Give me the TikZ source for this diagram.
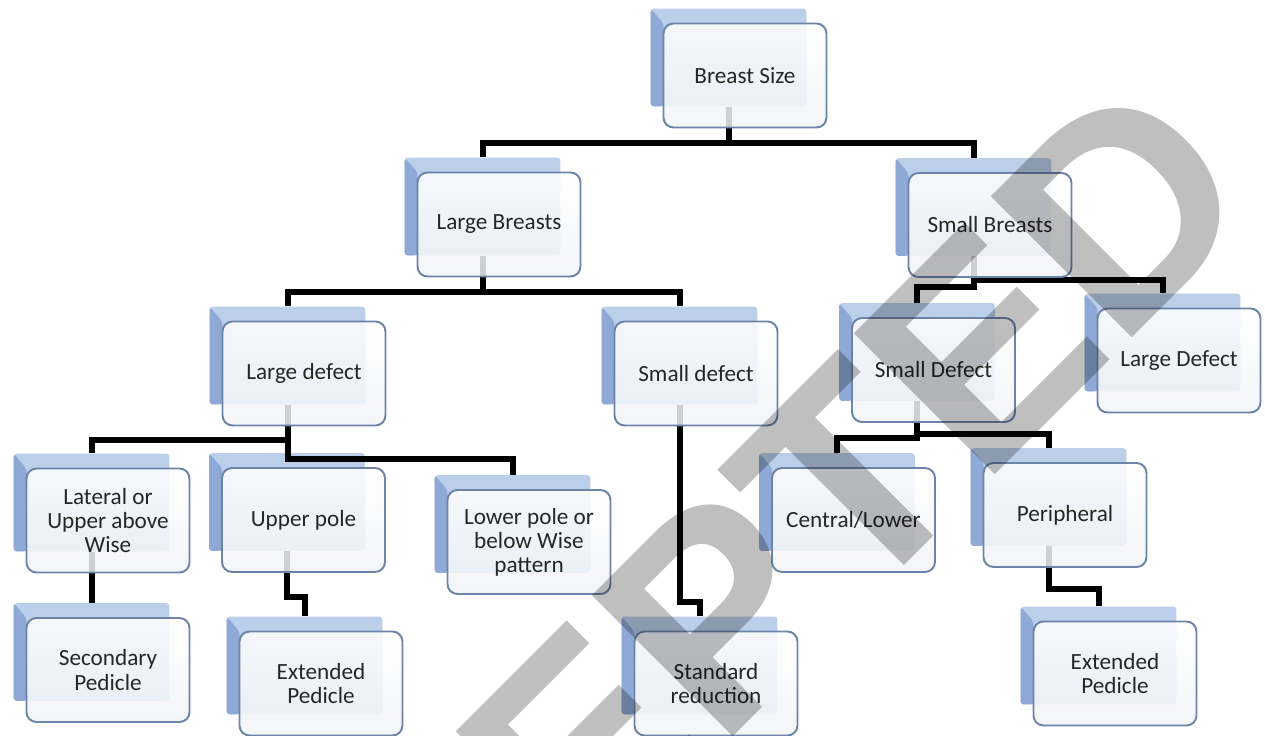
\documentclass[tikz,border=0pt]{standalone}
\usepackage{fontspec}
\setmainfont{Carlito}
\newfontfamily\stampfont{Liberation Sans}
\usetikzlibrary{backgrounds}

\definecolor{cardedge}{HTML}{6B84A8}
\definecolor{cardfoot}{HTML}{F1F3F7}
\definecolor{cardtext}{HTML}{262626}
\definecolor{backtop}{HTML}{BCCFEA}
\definecolor{backside}{HTML}{8EA9D6}

\tikzset{
  card/.style={rectangle, rounded corners=0.2cm, draw=cardedge, line width=1.1pt,
    top color=white, bottom color=cardfoot, fill opacity=0.85, text opacity=1,
    minimum width=3.26cm, minimum height=2.08cm, inner sep=2pt, align=center,
    text=cardtext, font=\fontsize{13.2}{13.7}\selectfont},
  back/.style={rectangle, rounded corners=2pt, fill=backtop, inner sep=0pt,
    minimum width=3.12cm, minimum height=1.96cm,
    path picture={\fill[backside] (path picture bounding box.north west)
      -- ++(0.26cm,-0.30cm) |- (path picture bounding box.south west) -- cycle;}},
  link/.style={line width=0.12cm, draw=black},
  stamp/.style={text=black, text opacity=0.25, inner sep=0pt,
    font=\stampfont\bfseries\fontsize{165}{165}\selectfont}
}

\begin{document}
\begin{tikzpicture}[x=0.02cm, y=-0.02cm]
  \useasboundingbox (0,0) rectangle (1265,736);
  \clip (0,0) rectangle (1265,736);

  % the cards, level by level
  \node[card] (bs) at (745,75.5) {Breast Size};

  \node[card] (lb) at (499,224.5) {Large Breasts};
  \node[card] (sb) at (990,225) {Small Breasts};

  \node[card] (ld) at (304,373.5) {Large defect};
  \node[card] (sd) at (696,373.5) {Small defect};
  \node[card] (sD) at (933.5,370) {Small Defect};
  \node[card] (LD) at (1179,360.5) {Large Defect};

  \node[card] (lat) at (108,520.5) {Lateral or\\Upper above\\Wise};
  \node[card] (up) at (303.5,520) {Upper pole};
  \node[card] (low) at (529,542) {Lower pole or\\below Wise\\pattern};
  \node[card] (cen) at (853.5,520) {Central/Lower};
  \node[card] (per) at (1065,515) {Peripheral};

  \node[card] (sec) at (108,670) {Secondary\\Pedicle};
  \node[card] (ext) at (321,683.5) {Extended\\Pedicle};
  \node[card] (std) at (716,683.5) {Standard\\reduction};
  \node[card] (ext2) at (1115,673.5) {Extended\\Pedicle};

  \begin{scope}[on background layer]
    % blue backs behind every card
    \foreach \n in {bs,lb,sb,ld,sd,sD,LD,lat,up,low,cen,per,sec,ext,std,ext2}
      \node[back] (\n-s) at ([shift={(-16.5,-18)}]\n.center) {};

    % elbow links
    \draw[link] (bs-s.south) -- ++(0,36.5) -| (lb-s.north);
    \draw[link] (bs-s.south) -- ++(0,36.5) -| (sb-s.north);

    \draw[link] (lb-s.south) -- ++(0,36.5) -| (ld-s.north);
    \draw[link] (lb-s.south) -- ++(0,36.5) -| (sd-s.north);
    \draw[link] (sb-s.south) -- ++(0,31) -| (sD-s.north);
    \draw[link] (sb-s.south) -- ++(0,24) -| (LD-s.north);

    \draw[link] (ld-s.south) -- ++(0,35.5) -| (lat-s.north);
    \draw[link] (ld-s.south) -- (ld-s.south |- up-s.north);
    \draw[link] (ld-s.south) -- ++(0,54.5) -| (low-s.north);
    \draw[link] (sd-s.south) -- ++(0,197.5) -| (std-s.north);
    \draw[link] (sD-s.south) -- ++(0,37) -| (cen-s.north);
    \draw[link] (sD-s.south) -- ++(0,33) -| (per-s.north);

    \draw[link] (lat-s.south) -- (sec-s.north);
    \draw[link] (up-s.south) -- ++(0,46) -| (ext-s.north);
    \draw[link] (per-s.south) -- ++(0,43) -| (ext2-s.north);
  \end{scope}

  % grey stamp across the chart
  \node[stamp, rotate=45, anchor=base east] (mark) at (1267,203) {ACCEPTED};
\end{tikzpicture}
\end{document}
